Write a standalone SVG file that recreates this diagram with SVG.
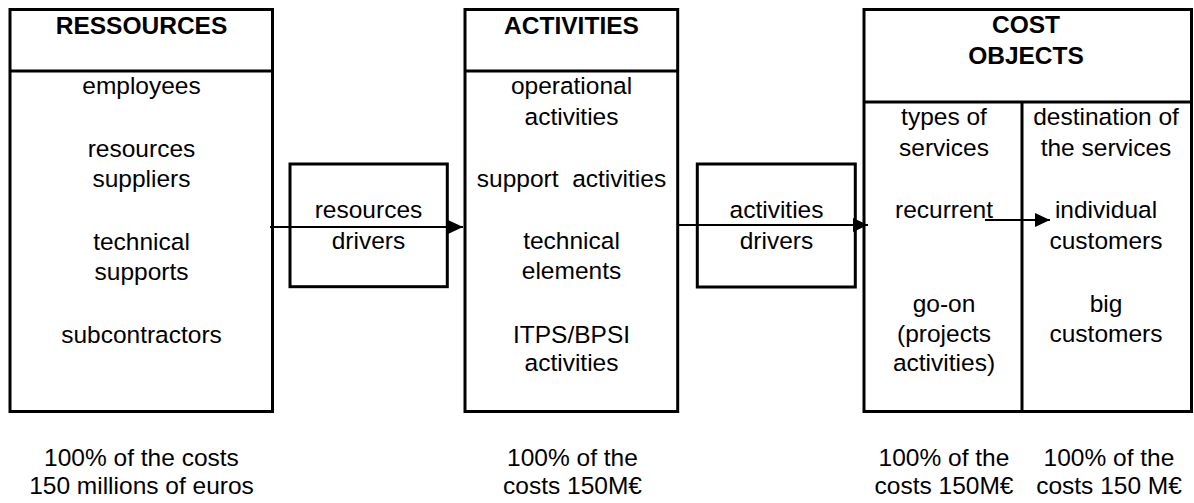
<svg xmlns="http://www.w3.org/2000/svg" width="1194" height="503" viewBox="0 0 1194 503">
<style>
.box{fill:none;stroke:#000;stroke-width:3}
.ln{stroke:#000;stroke-width:3;fill:none}
.con{stroke:#000;stroke-width:2;fill:none}
text{font-family:"Liberation Sans",Arial,sans-serif;font-size:24.5px;fill:#000;text-anchor:middle}
.h{font-weight:bold}
</style>
<defs>
<marker id="arr" markerWidth="15" markerHeight="14" refX="15" refY="7" orient="auto" markerUnits="userSpaceOnUse">
<path d="M0,0 L15,7 L0,14 Z" fill="#000"/>
</marker>
</defs>
<rect width="1194" height="503" fill="#fff"/>
<g id="resources">
<rect class="box" x="10" y="9.5" width="262.5" height="402"/>
<line class="ln" x1="10" y1="71" x2="272.5" y2="71"/>
<text class="h" x="141.5" y="34">RESSOURCES</text>
<text x="141.5" y="94">employees</text>
<text x="141.5" y="157">resources</text>
<text x="141.5" y="187">suppliers</text>
<text x="141.5" y="250">technical</text>
<text x="141.5" y="280">supports</text>
<text x="141.5" y="343">subcontractors</text>
<text x="141.5" y="466">100% of the costs</text>
<text x="141.5" y="494">150 millions of euros</text>
</g>
<g id="resources-drivers">
<rect class="box" x="290" y="164" width="157.3" height="122.7"/>
<text x="368.5" y="218">resources</text>
<text x="368.5" y="249">drivers</text>
</g>
<g id="activities">
<rect class="box" x="465" y="9.5" width="212.7" height="402"/>
<line class="ln" x1="465" y1="71" x2="677.7" y2="71"/>
<text class="h" x="571.5" y="34">ACTIVITIES</text>
<text x="571.5" y="94">operational</text>
<text x="571.5" y="125">activities</text>
<text x="571.5" y="187" xml:space="preserve">support  activities</text>
<text x="571.5" y="249">technical</text>
<text x="571.5" y="279">elements</text>
<text x="571.5" y="343">ITPS/BPSI</text>
<text x="571.5" y="371">activities</text>
<text x="572.5" y="466">100% of the</text>
<text x="572.5" y="494">costs 150M€</text>
</g>
<g id="activities-drivers">
<rect class="box" x="697.3" y="164" width="158" height="123"/>
<text x="776.5" y="218">activities</text>
<text x="776.5" y="249">drivers</text>
</g>
<g id="cost-objects">
<rect class="box" x="864" y="9.5" width="327.5" height="402"/>
<line class="ln" x1="864" y1="102" x2="1191.5" y2="102"/>
<line class="ln" x1="1022" y1="102" x2="1022" y2="411.5"/>
<text class="h" x="1026" y="33">COST</text>
<text class="h" x="1026" y="64">OBJECTS</text>
<text x="944" y="125">types of</text>
<text x="944" y="156">services</text>
<text x="944" y="218">recurrent</text>
<text x="944" y="312">go-on</text>
<text x="944" y="342">(projects</text>
<text x="944" y="371">activities)</text>
<text x="1106" y="125">destination of</text>
<text x="1106" y="156">the services</text>
<text x="1106" y="218">individual</text>
<text x="1106" y="249">customers</text>
<text x="1106" y="312">big</text>
<text x="1106" y="342">customers</text>
<text x="944" y="466">100% of the</text>
<text x="944" y="494">costs 150M€</text>
<text x="1109" y="466">100% of the</text>
<text x="1109" y="494">costs 150 M€</text>
</g>
<g id="connectors">
<line class="con" x1="270" y1="227" x2="463" y2="227" marker-end="url(#arr)"/>
<line class="con" x1="678" y1="225" x2="868" y2="225" marker-end="url(#arr)"/>
<line class="con" x1="985" y1="220" x2="1050" y2="220" marker-end="url(#arr)"/>
</g>
</svg>
